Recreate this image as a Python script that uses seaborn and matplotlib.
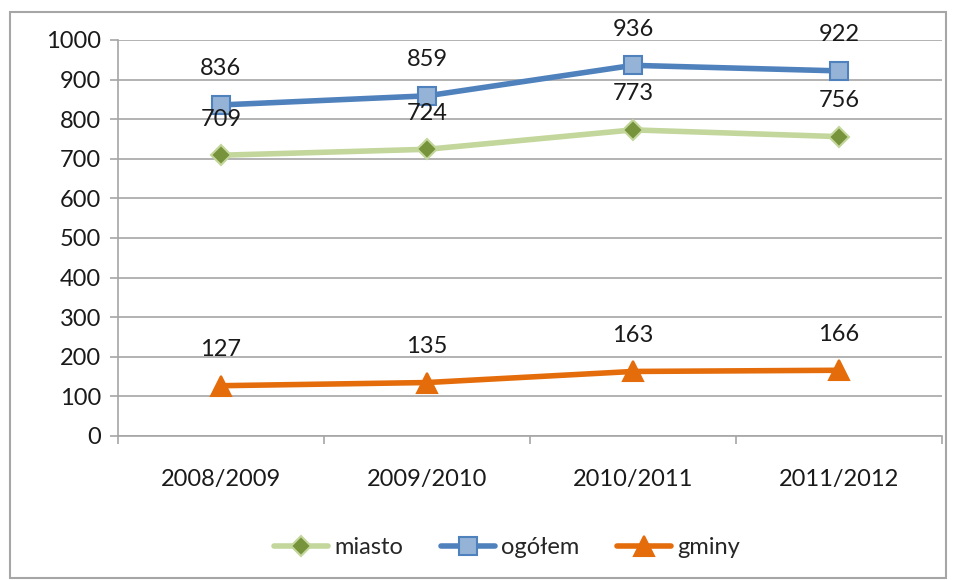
import pandas as pd
import seaborn as sns
import matplotlib.pyplot as plt
from matplotlib.patches import Rectangle

# Data
years = ['2008/2009', '2009/2010', '2010/2011', '2011/2012']
miasto = [709, 724, 773, 756]
ogolem = [836, 859, 936, 922]
gminy = [127, 135, 163, 166]
series_names = ['miasto', 'ogółem', 'gminy']

sns.set_style('white')
plt.rcParams['font.family'] = ['Lato', 'DejaVu Sans']

df = pd.DataFrame({
    'rok': years * 3,
    'wartosc': miasto + ogolem + gminy,
    'seria': [s for s in series_names for _ in years],
})
df['pos'] = df['rok'].map({y: i for i, y in enumerate(years)})

fig = plt.figure(figsize=(9.54, 5.8), dpi=100)
ax = fig.add_axes([118 / 954, 1 - 436 / 580, (942 - 118) / 954, (436 - 40) / 580])

styles = {
    'miasto': dict(line='#C3D69B', face='#77933C', edge='#C3D69B', marker='D', ms=10),
    'ogółem': dict(line='#4F81BD', face='#95B3D7', edge='#4F81BD', marker='s', ms=13),
    'gminy': dict(line='#E46C0A', face='#E46C0A', edge='#E46C0A', marker='^', ms=14),
}

for name in series_names:
    st = styles[name]
    sub = df[df['seria'] == name]
    sns.lineplot(data=sub, x='pos', y='wartosc', ax=ax, color=st['line'], linewidth=4,
                 marker=st['marker'], markersize=st['ms'], markerfacecolor=st['face'],
                 markeredgecolor=st['edge'], markeredgewidth=1.5, label=name)
    for x, y in zip(sub['pos'], sub['wartosc']):
        ax.annotate(str(y), (x, y), xytext=(0, 26), textcoords='offset points',
                    ha='center', va='center', fontsize=17, color='#1a1a1a')

ax.set_xlim(-0.5, 3.5)
ax.set_ylim(0, 1000)
ax.set_yticks(range(0, 1001, 100))
ax.set_xticks(range(len(years)))
ax.set_xticklabels(years)
ax.set_xticks([-0.5, 0.5, 1.5, 2.5, 3.5], minor=True)
ax.set_xlabel('')
ax.set_ylabel('')
ax.grid(axis='y', color='#a6a6a6', linewidth=1.2)
ax.set_axisbelow(True)
for side in ['top', 'right']:
    ax.spines[side].set_visible(False)
for side in ['left', 'bottom']:
    ax.spines[side].set_color('#a6a6a6')
    ax.spines[side].set_linewidth(1.2)
ax.tick_params(axis='y', which='major', length=6, width=1.2, color='#a6a6a6',
               labelsize=17, labelcolor='#1a1a1a', pad=6, left=True)
ax.tick_params(axis='x', which='major', length=0, labelsize=17, labelcolor='#1a1a1a', pad=24)
ax.tick_params(axis='x', which='minor', length=6, width=1.2, color='#a6a6a6', bottom=True)

ax.legend(loc='center', bbox_to_anchor=(507 / 954, 1 - 548 / 580), bbox_transform=fig.transFigure,
          ncol=3, frameon=False, fontsize=17, handlelength=2.3, columnspacing=1.6,
          handletextpad=0.25)

fig.patches.append(Rectangle((10 / 954, 2 / 580), 936 / 954, 566 / 580, transform=fig.transFigure,
                             fill=False, edgecolor='#a6a6a6', linewidth=1.5))

fig.savefig('out.png', dpi=100)
